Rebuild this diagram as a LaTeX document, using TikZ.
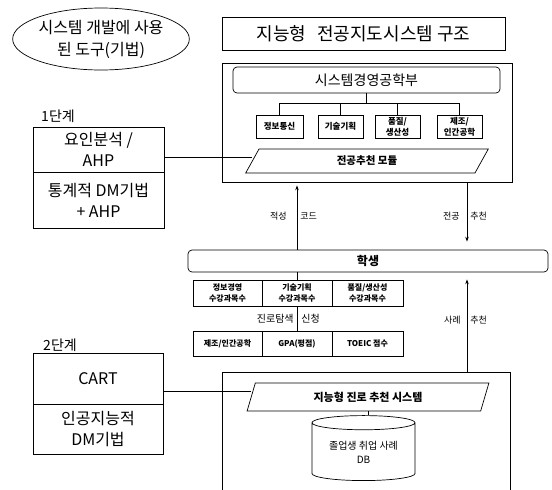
\documentclass[tikz,border=0pt]{standalone}
\usepackage{fontspec}
\setmainfont{Noto Sans CJK KR}
\usetikzlibrary{shapes.geometric,arrows.meta,calc}
\newcommand{\fs}[2]{\fontsize{#1}{#2}\selectfont}
\begin{document}
\begin{tikzpicture}[x=1pt,y=-1pt,line width=0.7pt,
  box/.style={draw,rectangle,inner sep=1pt,align=center},
  rbox/.style={box,rounded corners=4pt},
  sbox/.style={box,minimum width=45pt,minimum height=23pt,font=\fs{8.5}{11}\bfseries},
  rowbox/.style={box,minimum height=26pt,font=\fs{8}{11}\bfseries},
  para/.style={draw,trapezium,trapezium left angle=72,trapezium right angle=108,trapezium stretches=true,inner sep=1pt},
  arr/.style={-{Stealth[length=5pt,width=3.5pt]}},
  lab/.style={inner sep=0pt,font=\fs{9}{10}}
]
\useasboundingbox (0,0) rectangle (552,490);

% left side
\node[draw,ellipse,minimum width=172pt,minimum height=62pt,inner sep=0pt,align=center,font=\fs{16}{22}] (tools) at (101,39) {시스템 개발에 사용\\된 도구(기법)};

\node[inner sep=0pt,font=\fs{14}{16}] (st1) at (58,116) {1단계};
\node[box,minimum width=131pt,minimum height=45pt,font=\fs{16}{21}] (ahp) at (98.5,149.5) {요인분석 /\\AHP};
\node[box,minimum width=131pt,minimum height=56pt,font=\fs{16}{21}] (dm) at (98.5,200) {통계적 DM기법\\+ AHP};

\node[inner sep=0pt,font=\fs{14}{16}] (st2) at (60,345) {2단계};
\node[box,minimum width=130pt,minimum height=51pt,font=\fs{16}{21}] (cart) at (98,378.5) {CART};
\node[box,minimum width=130pt,minimum height=50pt,font=\fs{16}{21}] (aidm) at (98,429) {인공지능적\\DM기법};

% upper structure
\node[box,minimum width=283pt,minimum height=33pt,font=\fs{18}{20}] (title) at (363.5,33.5) {지능형\hspace{0.6em}전공지도시스템 구조};
\node[box,minimum width=290pt,minimum height=119pt] (upper) at (367,122.5) {};
\node[rbox,minimum width=267pt,minimum height=26pt,font=\fs{14}{16}] (dept) at (366.5,80) {시스템경영공학부};
\node[sbox,minimum width=47pt] (s1) at (279.5,126.5) {정보통신};
\node[sbox] (s2) at (340.5,126.5) {기술기획};
\node[sbox] (s3) at (397.5,126.5) {품질/\\생산성};
\node[sbox] (s4) at (459.5,126.5) {제조/\\인간공학};
\coordinate (tj) at (367,103);
\draw (dept.south) -- (dept.south |- tj);
\draw (s1.north) -- (s1.north |- tj) -- (s4.north |- tj) -- (s4.north);
\draw (s2.north) -- (s2.north |- tj);
\draw (s3.north) -- (s3.north |- tj);
\node[para,minimum width=244pt,minimum height=24pt,font=\fs{10.5}{12}\bfseries] (mod) at (367,161) {전공추천 모듈};
\coordinate (ahpE) at ([yshift=-7.5pt]ahp.east);
\draw (ahpE) -- (ahpE -| mod.west);

% student
\node[rbox,minimum width=360pt,minimum height=22pt,font=\fs{12}{14}\bfseries] (stu) at (368,261) {학생};
\coordinate (xa) at (297,0);
\coordinate (xb) at (467,0);
\draw[arr,shorten >=3pt] (xa |- stu.north) -- (xa |- upper.south);
\node[lab,anchor=east] (l1a) at (287,216) {적성};
\node[lab,anchor=west] (l1b) at (300,216) {코드};
\draw[arr,shorten >=8pt] (xb |- upper.south) -- (xb |- stu.north);
\node[lab,anchor=east] (l2a) at (460,216) {전공};
\node[lab,anchor=west] (l2b) at (470,216) {추천};

\node[rowbox,minimum width=69pt] (r11) at (227.5,293) {정보경영\\수강과목수};
\node[rowbox,minimum width=70pt] (r12) at (297,293) {기술기획\\수강과목수};
\node[rowbox,minimum width=71pt] (r13) at (367.5,293) {품질/생산성\\수강과목수};
\node[rowbox,minimum width=69pt,minimum height=25pt] (r21) at (227.5,343.5) {제조/인간공학};
\node[rowbox,minimum width=70pt,minimum height=25pt] (r22) at (297,343.5) {GPA(평점)};
\node[rowbox,minimum width=71pt,minimum height=25pt] (r23) at (367.5,343.5) {TOEIC 점수};
\draw (r12.north |- stu.south) -- (r12.north);
\draw (r12.south) -- (r22.north);
\node[inner sep=0pt,font=\fs{10}{12},anchor=east] (l3a) at (294,319) {진로탐색};
\node[inner sep=0pt,font=\fs{10}{12},anchor=west] (l3b) at (301,319) {신청};

% lower system
\node[box,minimum width=288pt,minimum height=130pt] (lower) at (366,437) {};
\draw[arr,shorten >=7pt] (xb |- lower.north) -- (xb |- stu.south);
\node[lab,anchor=east] (l4a) at (461,320) {사례};
\node[lab,anchor=west] (l4b) at (470,320) {추천};
\node[para,minimum width=242pt,minimum height=28pt,font=\fs{11}{13}\bfseries] (sys) at (368,397) {지능형 진로 추천 시스템};
\coordinate (cartE) at ([yshift=-12.5pt]cart.east);
\draw (cartE) -- (cartE -| sys.west);
\node[draw,cylinder,shape border rotate=90,aspect=0.2,minimum width=103pt,minimum height=65pt,inner sep=1pt,align=center,font=\fs{10}{14}] (db) at (363.5,452.5) {졸업생 취업 사례\\DB};
\draw (sys.south) -- (sys.south |- db.north);
\end{tikzpicture}
\end{document}
